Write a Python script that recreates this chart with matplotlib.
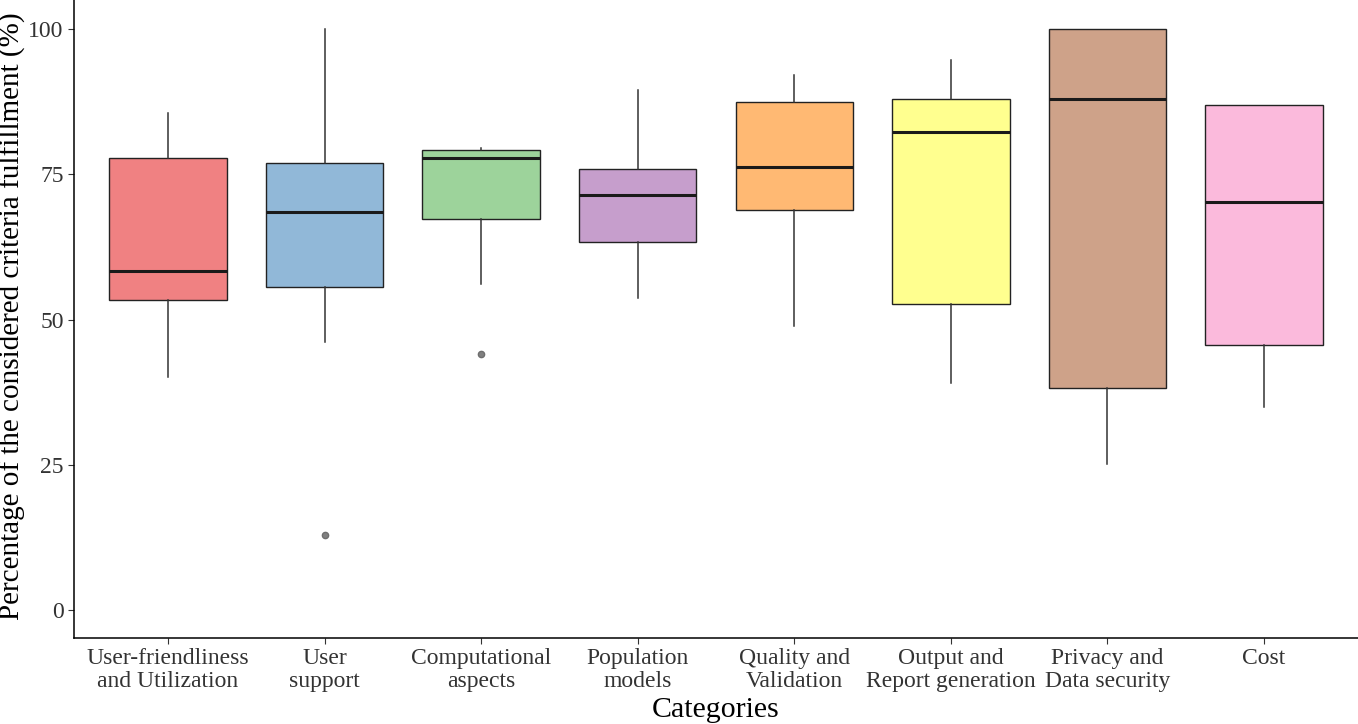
import matplotlib
matplotlib.use("Agg")
import matplotlib.pyplot as plt
from matplotlib.colors import to_rgb

plt.rcParams["font.family"] = ["Liberation Serif", "DejaVu Serif"]

categories = ["User-friendliness\nand Utilization", "User\nsupport", "Computational\naspects",
              "Population\nmodels", "Quality and\nValidation", "Output and\nReport generation",
              "Privacy and\nData security", "Cost"]
whisker_low = [40.1, 46.1, 56.1, 53.7, 48.9, 39.0, 25.1, 35.0]
q1 = [53.4, 55.6, 67.3, 63.3, 68.8, 52.6, 38.2, 45.6]
medians = [58.3, 68.5, 77.8, 71.4, 76.2, 82.2, 88.0, 70.2]
q3 = [77.8, 76.9, 79.2, 75.9, 87.4, 88.0, 100.0, 87.0]
whisker_high = [85.5, 100.0, 79.5, 89.5, 92.1, 94.7, 100.0, 87.0]
outliers = [[], [12.9], [44.1], [], [], [], [], []]

base_colors = ["#E41A1C", "#377EB8", "#4DAF4A", "#984EA3", "#FF7F00", "#FFFF33", "#A65628", "#F781BF"]


def blend(c, a=0.55):
    r, g, b = to_rgb(c)
    return (a * r + 1 - a, a * g + 1 - a, a * b + 1 - a)


stats = []
for i, name in enumerate(categories):
    stats.append(dict(label=name, whislo=whisker_low[i], q1=q1[i], med=medians[i],
                      q3=q3[i], whishi=whisker_high[i], fliers=outliers[i]))

fig = plt.figure(figsize=(13.58, 7.24), dpi=100)
ax = fig.add_axes([74 / 1358, (724 - 638) / 724, 1 - 74 / 1358, 638 / 724])

positions = list(range(1, len(categories) + 1))
bp = ax.bxp(stats, positions=positions, widths=0.75, patch_artist=True, showcaps=False,
            boxprops=dict(edgecolor="#222222", linewidth=1.0),
            medianprops=dict(color="#1a1a1a", linewidth=2.2),
            whiskerprops=dict(color="#333333", linewidth=1.1),
            flierprops=dict(marker="o", markersize=4.5, markerfacecolor="#808080",
                            markeredgecolor="#6e6e6e", linestyle="none"))
for patch, c in zip(bp["boxes"], base_colors):
    patch.set_facecolor(blend(c))

ax.set_xlim(0.4, 8.6)
ax.set_ylim(-4.8, 105)
ax.set_yticks([0, 25, 50, 75, 100])
ax.set_xticks(positions)
ax.set_xticklabels(categories, fontsize=17, color="#333333", linespacing=1.08)
ax.tick_params(axis="y", labelsize=17, labelcolor="#333333")
ax.tick_params(length=4, color="#333333", width=0.8)

for side in ["top", "right"]:
    ax.spines[side].set_visible(False)
for side in ["left", "bottom"]:
    ax.spines[side].set_linewidth(1.1)

ax.set_xlabel("Categories", fontsize=21.5, labelpad=4)
ax.set_ylabel("Percentage of the considered criteria fulfillment (%)", fontsize=21)
ax.yaxis.set_label_coords(-0.037, 0.505)

fig.savefig("out.png", dpi=100)
